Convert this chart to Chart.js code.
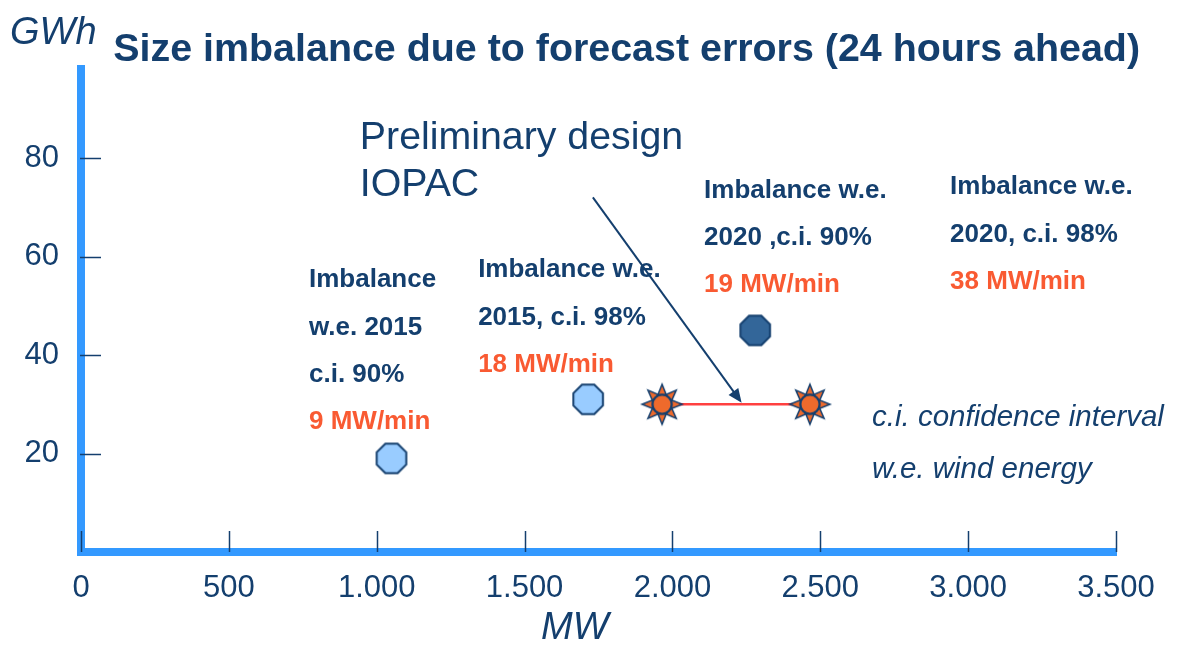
<!DOCTYPE html>
<html><head><meta charset="utf-8">
<script src="https://cdn.jsdelivr.net/npm/chart.js@4.4.1/dist/chart.umd.min.js"></script>
<style>html,body{margin:0;padding:0;background:#fff;} canvas{display:block;}</style>
</head><body>
<canvas id="c" width="1178" height="646"></canvas>
<script>
// ---- data ----
const titleText = 'Size imbalance due to forecast errors (24 hours ahead)';
const xAxisTitle = 'MW';
const yAxisTitle = 'GWh';
const xTickValues = [0, 500, 1000, 1500, 2000, 2500, 3000, 3500];
const xTickLabels = ['0', '500', '1.000', '1.500', '2.000', '2.500', '3.000', '3.500'];
const yTickValues = [20, 40, 60, 80];
const scenarioNames = ['w.e. 2015 c.i. 90%', 'w.e. 2015 c.i. 98%', 'w.e. 2020 c.i. 90%', 'w.e. 2020 c.i. 98%'];
const scenarioMW = [1050, 1715, 2280, 3615];
const scenarioGWh = [19, 31, 45, 65];
const scenarioLines = [
  ['Imbalance', 'w.e. 2015', 'c.i. 90%'],
  ['Imbalance w.e.', '2015, c.i. 98%'],
  ['Imbalance w.e.', '2020 ,c.i. 90%'],
  ['Imbalance w.e.', '2020, c.i. 98%']
];
const scenarioRamp = ['9 MW/min', '18 MW/min', '19 MW/min', '38 MW/min'];
const scenarioLabelMW = [771, 1343, 2107, 2939];
const scenarioLabelGWh = [55.2, 57.2, 73.4, 74.1];
const iopacMW = [1965, 2465];
const iopacGWh = [30, 30];
const iopacLines = ['Preliminary design', 'IOPAC'];
const iopacLabelMW = 943;
const iopacLabelGWh = 84.0;
const arrowFrom = [1731, 72.0];
const arrowTo = [2234, 30.3];
const noteLines = ['c.i. confidence interval', 'w.e. wind energy'];
const noteMW = 2675;
const noteGWh = 27.2;

// ---- styles ----
const FONT = "'Liberation Sans', Arial, Helvetica, sans-serif";
const NAVY = '#143F6E';
const AXIS = '#3399FF';
const ORANGE_TXT = '#F95A32';
const SUN = '#EE6A2C';
const RED = '#FF4040';
const scenarioFills = ['#99CCFF', '#99CCFF', '#336699', '#1468CC'];

function octagon(fill) {
  const s = 38, c = document.createElement('canvas');
  c.width = c.height = s;
  const g = c.getContext('2d');
  const r = 16;
  g.beginPath();
  for (let i = 0; i < 8; i++) {
    const a = Math.PI / 8 + i * Math.PI / 4;
    const px = s / 2 + r * Math.cos(a), py = s / 2 + r * Math.sin(a);
    if (i) g.lineTo(px, py); else g.moveTo(px, py);
  }
  g.closePath();
  g.fillStyle = fill; g.fill();
  g.lineWidth = 2; g.strokeStyle = NAVY; g.stroke();
  return c;
}
function sun() {
  const s = 46, c = document.createElement('canvas');
  c.width = c.height = s;
  const g = c.getContext('2d');
  const cx = s / 2, cy = s / 2;
  g.lineJoin = 'miter';
  for (let i = 0; i < 8; i++) {
    const a = i * Math.PI / 4;
    g.beginPath();
    g.moveTo(cx + 20 * Math.cos(a), cy + 20 * Math.sin(a));
    g.lineTo(cx + 10.5 * Math.cos(a + 0.4), cy + 10.5 * Math.sin(a + 0.4));
    g.lineTo(cx + 10.5 * Math.cos(a - 0.4), cy + 10.5 * Math.sin(a - 0.4));
    g.closePath();
    g.fillStyle = SUN; g.fill();
    g.lineWidth = 1.5; g.strokeStyle = NAVY; g.stroke();
  }
  g.beginPath();
  g.arc(cx, cy, 9.5, 0, Math.PI * 2);
  g.fillStyle = SUN; g.fill();
  g.lineWidth = 2; g.strokeStyle = NAVY; g.stroke();
  return c;
}

Chart.defaults.font.family = FONT;

const datasets = scenarioMW.map((mw, i) => ({
  label: scenarioNames[i],
  data: [{ x: mw, y: scenarioGWh[i] }],
  pointStyle: octagon(scenarioFills[i]),
  pointRadius: 16,
  clip: false
}));
datasets.push({
  label: 'Preliminary design IOPAC',
  data: iopacMW.map((mw, i) => ({ x: mw, y: iopacGWh[i] })),
  showLine: true,
  borderColor: RED,
  borderWidth: 2.5,
  pointStyle: sun(),
  pointRadius: 20,
  clip: false
});

const annotations = {
  id: 'annotations',
  afterDraw(chart) {
    const ctx = chart.ctx, xs = chart.scales.x, ys = chart.scales.y, ca = chart.chartArea;
    ctx.save();
    // inside tick marks
    ctx.strokeStyle = NAVY; ctx.lineWidth = 1.5;
    xTickValues.forEach(v => {
      const px = Math.round(xs.getPixelForValue(v)) + 0.5;
      ctx.beginPath(); ctx.moveTo(px, ca.bottom); ctx.lineTo(px, ca.bottom - 21); ctx.stroke();
    });
    yTickValues.forEach(v => {
      const py = Math.round(ys.getPixelForValue(v)) + 0.5;
      ctx.beginPath(); ctx.moveTo(ca.left - 1, py); ctx.lineTo(ca.left + 20, py); ctx.stroke();
    });
    // arrow
    const ax0 = xs.getPixelForValue(arrowFrom[0]), ay0 = ys.getPixelForValue(arrowFrom[1]);
    const ax1 = xs.getPixelForValue(arrowTo[0]), ay1 = ys.getPixelForValue(arrowTo[1]);
    const ang = Math.atan2(ay1 - ay0, ax1 - ax0);
    ctx.strokeStyle = NAVY; ctx.fillStyle = NAVY; ctx.lineWidth = 2;
    ctx.beginPath(); ctx.moveTo(ax0, ay0);
    ctx.lineTo(ax1 - 10 * Math.cos(ang), ay1 - 10 * Math.sin(ang)); ctx.stroke();
    ctx.beginPath();
    ctx.moveTo(ax1, ay1);
    ctx.lineTo(ax1 - 14 * Math.cos(ang) + 6 * Math.sin(ang), ay1 - 14 * Math.sin(ang) - 6 * Math.cos(ang));
    ctx.lineTo(ax1 - 14 * Math.cos(ang) - 6 * Math.sin(ang), ay1 - 14 * Math.sin(ang) + 6 * Math.cos(ang));
    ctx.closePath(); ctx.fill();
    // texts
    ctx.textAlign = 'left'; ctx.textBaseline = 'middle';
    scenarioLines.forEach((lines, i) => {
      const x = xs.getPixelForValue(scenarioLabelMW[i]);
      const y0 = ys.getPixelForValue(scenarioLabelGWh[i]);
      ctx.font = 'bold 26px ' + FONT;
      lines.forEach((t, j) => { ctx.fillStyle = NAVY; ctx.fillText(t, x, y0 + j * 47.3); });
      ctx.fillStyle = ORANGE_TXT;
      ctx.fillText(scenarioRamp[i], x, y0 + lines.length * 47.3);
    });
    ctx.font = '39.3px ' + FONT; ctx.fillStyle = NAVY;
    iopacLines.forEach((t, j) => ctx.fillText(t, xs.getPixelForValue(iopacLabelMW), ys.getPixelForValue(iopacLabelGWh) + j * 47));
    ctx.font = 'italic 29.5px ' + FONT;
    noteLines.forEach((t, j) => ctx.fillText(t, xs.getPixelForValue(noteMW), ys.getPixelForValue(noteGWh) + j * 52));
    // axis titles
    ctx.font = 'italic 38px ' + FONT;
    ctx.fillText(yAxisTitle, 10, 33);
    ctx.font = 'italic 38px ' + FONT; ctx.textAlign = 'center';
    ctx.fillText(xAxisTitle, xs.getPixelForValue(1670), ca.bottom + 76);
    ctx.restore();
  }
};

new Chart(document.getElementById('c'), {
  type: 'scatter',
  data: { datasets },
  options: {
    responsive: false,
    animation: false,
    events: [],
    layout: { padding: { left: 0, right: 38, top: 0, bottom: 0 } },
    plugins: {
      legend: { display: false },
      tooltip: { enabled: false },
      title: {
        display: true, text: titleText, align: 'end', color: NAVY,
        font: { size: 39.4, weight: 'bold', lineHeight: 1 },
        padding: { top: 30, bottom: 0 }
      }
    },
    scales: {
      x: {
        type: 'linear', min: 0, max: 3500,
        afterBuildTicks: s => { s.ticks = xTickValues.map(v => ({ value: v })); },
        afterFit: s => { s.height = 94; s.paddingRight = 62; },
        grid: { display: false, drawTicks: false },
        border: { display: true, color: AXIS, width: 8 },
        ticks: {
          color: NAVY, font: { size: 31 }, padding: 18, maxRotation: 0, autoSkip: false,
          callback: v => xTickLabels[xTickValues.indexOf(v)]
        }
      },
      y: {
        type: 'linear', min: 0, max: 98,
        afterBuildTicks: s => { s.ticks = yTickValues.map(v => ({ value: v })); },
        afterFit: s => { s.width = 81; },
        grid: { display: false, drawTicks: false },
        border: { display: true, color: AXIS, width: 8 },
        ticks: { color: NAVY, font: { size: 31 }, padding: 22 }
      }
    }
  },
  plugins: [annotations]
});
</script>
</body></html>
